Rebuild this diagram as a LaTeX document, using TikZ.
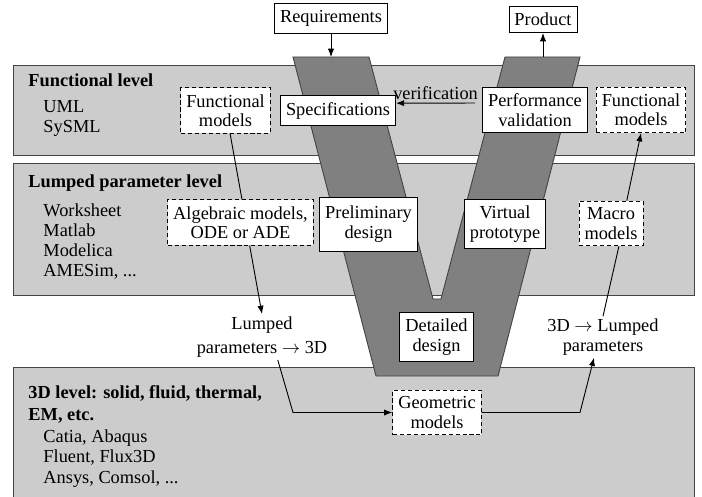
\documentclass[tikz,border=0pt]{standalone}
\usepackage{fontspec}
\setmainfont{Liberation Serif}
\usetikzlibrary{arrows.meta}

\definecolor{bandgray}{HTML}{CCCCCC}
\definecolor{vgray}{HTML}{808080}
\definecolor{edgegray}{HTML}{444444}

\tikzset{
  box/.style={draw, fill=white, align=center, inner xsep=3pt, inner ysep=3.6pt,
    font=\fontsize{10}{10.5}\selectfont},
  dbox/.style={box, dash pattern=on 2.2pt off 1.6pt},
  plain/.style={align=center, inner sep=1pt, font=\fontsize{10}{11}\selectfont},
  band/.style={fill=bandgray, draw=edgegray, line width=0.5pt},
  head/.style={anchor=base west, inner sep=0pt, font=\bfseries},
  item/.style={anchor=base west, inner sep=0pt},
  arr/.style={-{Latex[length=4.5pt,width=3.4pt]}},
}

\begin{document}
\begin{tikzpicture}[x=0.545pt, y=-0.545pt, line width=0.5pt]
  \useasboundingbox (0,0) rectangle (702,497);

  % levels
  \path[band] (13,65) rectangle (694,155);
  \path[band] (13,163) rectangle (694,295);
  \fill[bandgray] (13,367) rectangle (694,497);
  \draw[edgegray] (13,497) -- (13,367) -- (694,367) -- (694,497);

  \node[head] (funlev) at (28,87) {Functional level};
  \foreach \name/\txt/\y in {uml/UML/113, sysml/SySML/133}
    \node[item] (\name) at (43,\y) {\txt};

  \node[head] (lumlev) at (28,188) {Lumped parameter level};
  \foreach \name/\txt/\y in {wks/Worksheet/217, mat/Matlab/237, mod/Modelica/257, ame/{AMESim, ...}/277}
    \node[item] (\name) at (43,\y) {\txt};

  \node[head] (3dlev) at (28,398) {3D level: solid, fluid, thermal,};
  \node[head] (3dlevb) at (28,420) {EM, etc.};
  \foreach \name/\txt/\y in {cat/{Catia, Abaqus}/442, flu/{Fluent, Flux3D}/462, ans/{Ansys, Comsol, ...}/483}
    \node[item] (\name) at (43,\y) {\txt};

  % the V
  \draw[fill=vgray, draw=edgegray] (293,57) -- (376,376) -- (498,376) -- (580,57)
    -- (505,57) -- (441,299) -- (433,299) -- (369,57) -- cycle;
  \coordinate (vl) at (331,57);
  \coordinate (vr) at (543,57);

  % boxes
  \node[box] (req) at (331,18.5) {Requirements};
  \node[box] (prod) at (543,19.5) {Product};
  \node[box] (spec) at (338,110.5) {Specifications};
  \node[box] (perf) at (535,110) {Performance\\validation};
  \node[dbox] (fmr) at (641,110) {Functional\\models};
  \node[dbox] (fml) at (225.5,110.5) {Functional\\models};
  \node[dbox] (alg) at (240.5,222.5) {Algebraic models,\\ODE or ADE};
  \node[box, minimum height=29.4pt] (pre) at (368.5,224) {Preliminary\\design};
  \node[box] (vir) at (505,224) {Virtual\\prototype};
  \node[dbox] (mac) at (611,223.5) {Macro\\models};
  \node[box] (det) at (436.5,337) {Detailed\\design};
  \node[dbox] (geo) at (437,412.5) {Geometric\\models};
  \node[plain] (l2d) at (262,337) {Lumped\\[2.5pt]parameters $\rightarrow$ 3D};
  \node[plain] (d2l) at (603,337) {3D $\rightarrow$ Lumped\\parameters};
  \coordinate (lk) at (293,412.5);
  \coordinate (rk) at (580,412.5);

  % connectors
  \draw[arr] (req.south) -- (vl);
  \draw[arr] (vr) -- (prod.south);
  \draw[arr] ([xshift=-3.8pt, yshift=3.8pt]perf.west) -- ([yshift=4pt]spec.east)
    node[midway, above, inner sep=1.5pt] (verif) {verification};
  \draw ([xshift=2.5pt]fml.south) -- ([xshift=0.8pt]alg.north);
  \draw[arr] ([xshift=5pt]alg.south) -- (l2d.north);
  \draw[arr] ([xshift=8.6pt]l2d.south) -- (lk) -- (geo.west);
  \draw[arr] (geo.east) -- (rk) -- ([xshift=-4.9pt]d2l.south);
  \draw (d2l.north) -- ([xshift=4.3pt]mac.south);
  \draw[arr] ([xshift=8.6pt]mac.north) -- (fmr.south);
\end{tikzpicture}
\end{document}
